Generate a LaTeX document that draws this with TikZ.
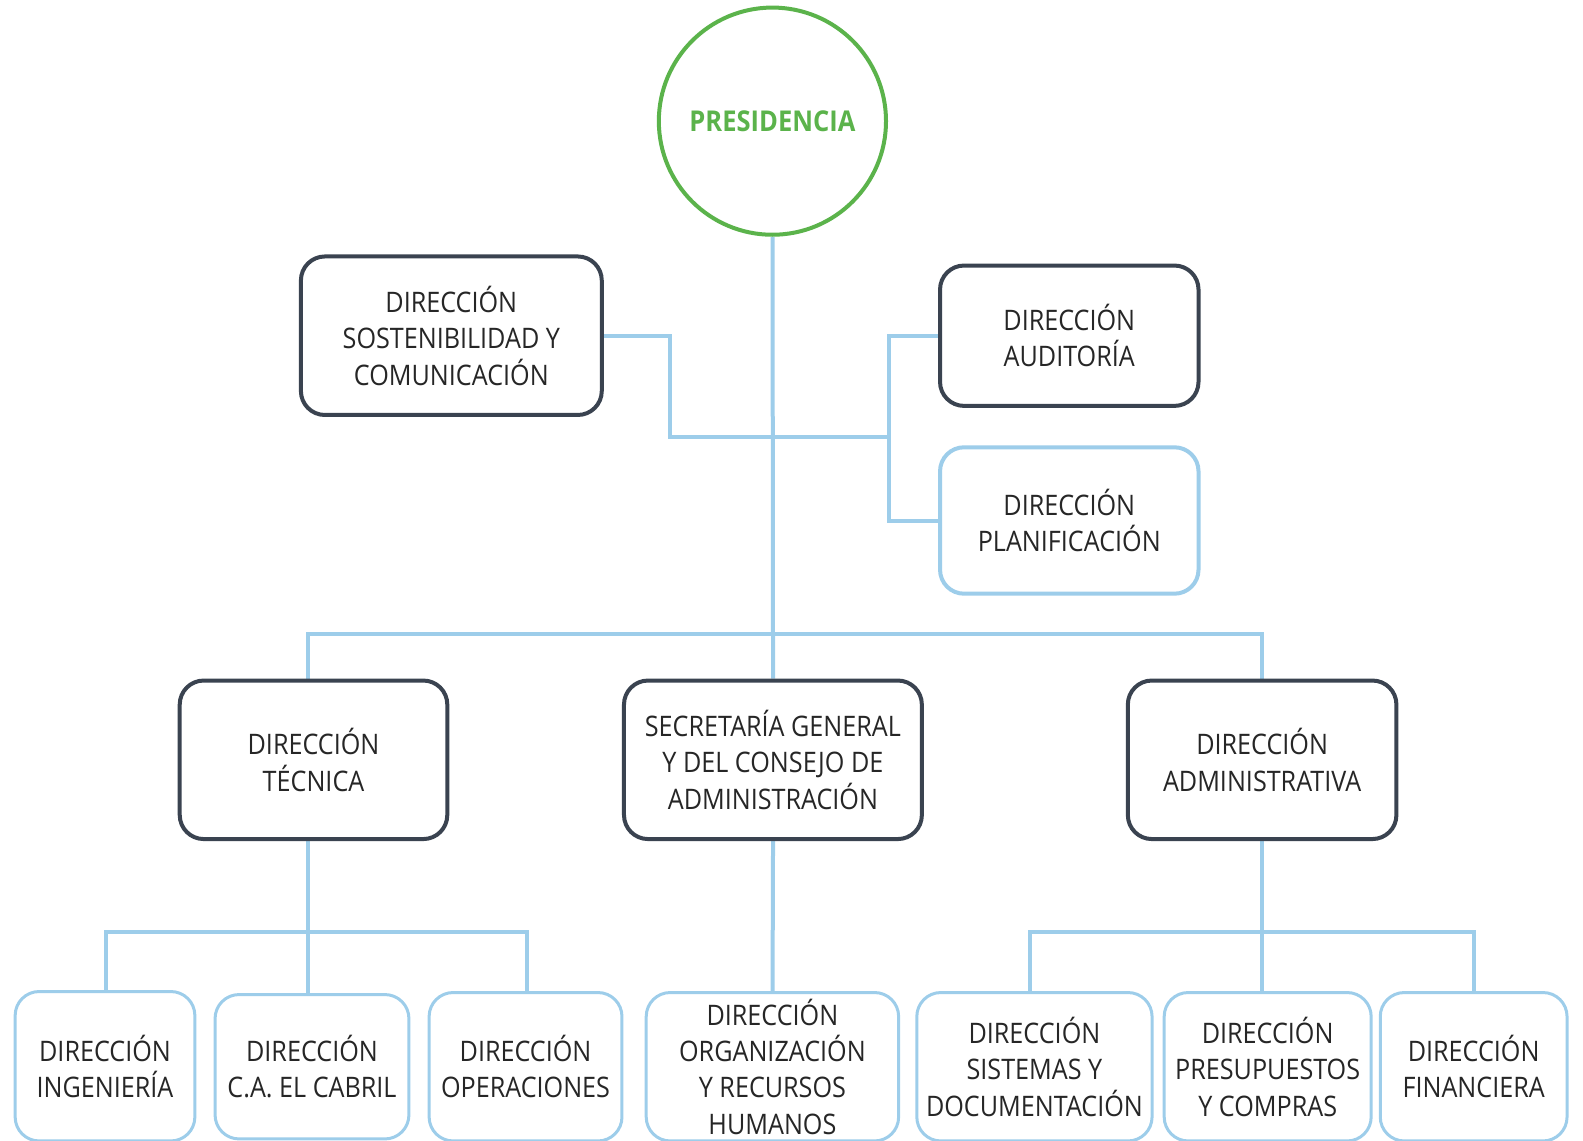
\documentclass[tikz,border=0pt]{standalone}
\usepackage{fontspec}
\setmainfont{Open Sans}[FakeStretch=0.89]
\usetikzlibrary{backgrounds}
\definecolor{darkb}{HTML}{3A4350}
\definecolor{lblue}{HTML}{9DCDEA}
\definecolor{pgreen}{HTML}{5BB34B}
\definecolor{txt}{HTML}{262626}
\begin{document}
\begin{tikzpicture}[x=0.5pt,y=-0.5pt,scale=1.0097,
  every node/.style={font=\fontsize{14}{18}\selectfont, text=txt, align=center, transform shape},
  darkbox/.style={draw=darkb, line width=2pt, rounded corners=12pt, fill=white, inner sep=0pt},
  lightbox/.style={draw=lblue, line width=2pt, rounded corners=12pt, fill=white, inner sep=0pt},
  smallbox/.style={draw=lblue, line width=1.5pt, rounded corners=12pt, fill=white, inner sep=0pt},
  conn/.style={draw=lblue, line width=2pt}]
\clip (0,0) rectangle (1567.8,1130);

\node[circle, draw=pgreen, line width=2pt, minimum size=112.5pt, inner sep=0pt,
  font=\fontsize{14.2}{17}\selectfont\bfseries, text=pgreen] (pres) at (765,120) {PRESIDENCIA};

\node[darkbox, minimum width=149pt, minimum height=78.5pt] (sost) at (447,332.5) {DIRECCIÓN\\SOSTENIBILIDAD Y\\COMUNICACIÓN};
\node[darkbox, minimum width=128pt, minimum height=69.5pt] (audit) at (1059,332.5) {DIRECCIÓN\\AUDITORÍA};
\node[lightbox, minimum width=128pt, minimum height=72.5pt] (plan) at (1059,515.5) {DIRECCIÓN\\PLANIFICACIÓN};

\node[darkbox, minimum width=132.5pt, minimum height=78.5pt] (tec) at (310.5,752.5) {DIRECCIÓN\\TÉCNICA};
\node[darkbox, minimum width=147.5pt, minimum height=78.5pt] (sec) at (765.5,752.5) {SECRETARÍA GENERAL\\Y DEL CONSEJO DE\\ADMINISTRACIÓN};
\node[darkbox, minimum width=133pt, minimum height=78.5pt] (adm) at (1250,752.5) {DIRECCIÓN\\ADMINISTRATIVA};

\node[smallbox, minimum width=89pt, minimum height=74pt] (ing) at (104,1056) {DIRECCIÓN\\INGENIERÍA};
\node[smallbox, minimum width=96pt, minimum height=71.5pt] (cab) at (309,1056.5) {DIRECCIÓN\\C.A. EL CABRIL};
\node[smallbox, minimum width=95.5pt, minimum height=73.5pt] (ope) at (520.5,1056.5) {DIRECCIÓN\\OPERACIONES};
\node[smallbox, minimum width=125pt, minimum height=73.5pt] (org) at (765,1056.5) {DIRECCIÓN\\ORGANIZACIÓN\\Y RECURSOS\\HUMANOS};
\node[smallbox, minimum width=116.5pt, minimum height=73.5pt] (sis) at (1024.5,1056.5) {DIRECCIÓN\\SISTEMAS Y\\DOCUMENTACIÓN};
\node[smallbox, minimum width=102.5pt, minimum height=73.5pt] (pre) at (1255.5,1056.5) {DIRECCIÓN\\PRESUPUESTOS\\Y COMPRAS};
\node[smallbox, minimum width=92.5pt, minimum height=73.5pt] (fin) at (1459.5,1056.5) {DIRECCIÓN\\FINANCIERA};

\coordinate (j1) at (663,433);
\coordinate (j2) at (880,433);
\coordinate (hl) at (305,628);
\coordinate (hr) at (1250,628);
\coordinate (bl1) at (105,923);
\coordinate (bl2) at (522,923);
\coordinate (br1) at (1020,923);
\coordinate (br2) at (1460,923);

\begin{scope}[on background layer]
\draw[conn] (pres.south) -- (sec.north);
\draw[conn] (sost.east) -| (j1) -- (j2);
\draw[conn] (audit.west) -| (j2) |- (plan.west);
\draw[conn] (hl |- tec.north) -- (hl) -- (hr) -- (adm.north);
\draw[conn] (tec.south -| hl) -- (hl |- cab.north);
\draw[conn] (bl1 |- ing.north) -- (bl1) -- (bl2) -- (bl2 |- ope.north);
\draw[conn] (sec.south) -- (org.north);
\draw[conn] (adm.south) -- (adm.south |- pre.north);
\draw[conn] (br1 |- sis.north) -- (br1) -- (br2) -- (br2 |- fin.north);
\end{scope}
\end{tikzpicture}
\end{document}
